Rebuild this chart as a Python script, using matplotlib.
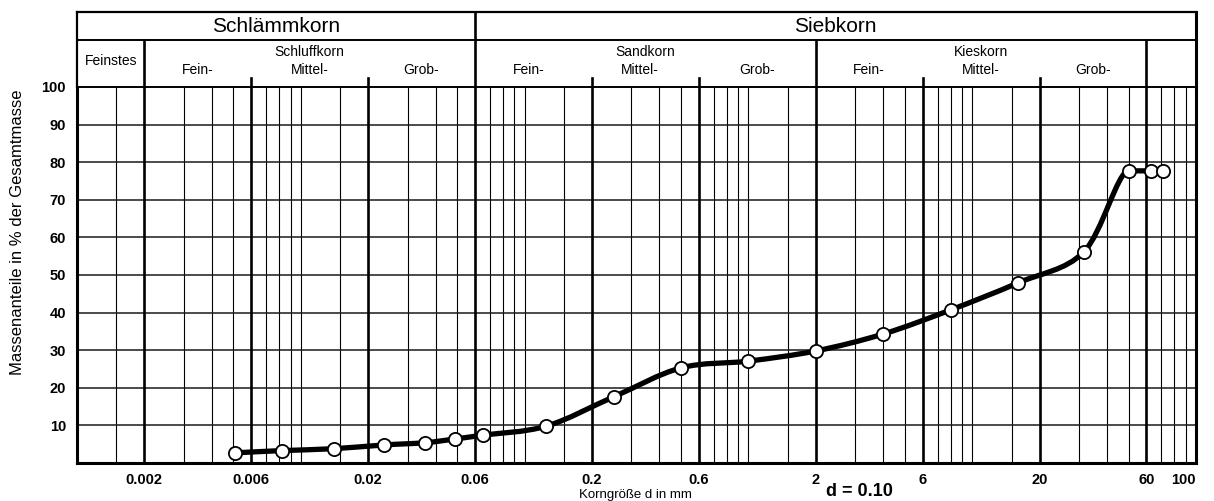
import numpy as np
import matplotlib
matplotlib.use("Agg")
import matplotlib.pyplot as plt
from matplotlib.path import Path
from matplotlib.patches import PathPatch

plt.rcParams['font.family'] = ['Liberation Sans', 'DejaVu Sans']

# grain size (mm) and passing (% of total mass)
d_mm = [0.0051, 0.0082, 0.014, 0.0235, 0.036, 0.049, 0.065, 0.125, 0.25, 0.5,
        1.0, 2.0, 4.0, 8.0, 16.0, 31.5, 50.0, 63.0, 71.0]
passing = [2.7, 3.3, 3.8, 4.8, 5.4, 6.4, 7.4, 9.8, 17.6, 25.3,
           27.1, 29.8, 34.3, 40.7, 47.9, 56.1, 77.7, 77.7, 77.7]

x_ticks = [0.002, 0.006, 0.02, 0.06, 0.2, 0.6, 2, 6, 20, 60, 100]
x_labels = ["0.002", "0.006", "0.02", "0.06", "0.2", "0.6", "2", "6", "20", "60", "100"]
y_ticks = [10, 20, 30, 40, 50, 60, 70, 80, 90, 100]

grid_steps = [1, 1.5, 2, 3, 4, 5, 6, 7, 8, 9]
decades = [0.001, 0.01, 0.1, 1, 10]
bounds = [0.002, 0.006, 0.02, 0.06, 0.2, 0.6, 2, 6, 20, 60]

top_groups = [("Schlämmkorn", 0.001, 0.06), ("Siebkorn", 0.06, 100)]
mid_groups = [("Schluffkorn", 0.002, 0.06), ("Sandkorn", 0.06, 2), ("Kieskorn", 2, 60)]
sub_names = ["Fein-", "Mittel-", "Grob-"]

W, H = 1214, 501
fig = plt.figure(figsize=(W / 100, H / 100), dpi=100)
ax = fig.add_axes([77 / W, 38 / H, 1119 / W, 376 / H])
ax.set_xscale('log')
ax.set_xlim(0.001, 100)
ax.set_ylim(0, 100)
trans = ax.get_xaxis_transform()

# vertical grid
for dec in decades:
    for s in grid_steps:
        v = dec * s
        if v <= 0.0011 or v >= 99:
            continue
        if any(np.isclose(v, b) for b in bounds):
            if np.isclose(v, 0.06):
                top = 1.2
            elif any(np.isclose(v, b) for b in [0.002, 2, 60]):
                top = 1.125
            else:
                top = 1.024
            ax.plot([v, v], [0, top], color='black', lw=1.9, transform=trans,
                    clip_on=False, zorder=2)
        else:
            ax.axvline(v, color='black', lw=0.8, zorder=1)

for yv in y_ticks[:-1]:
    ax.axhline(yv, color='#1a1a1a', lw=1.1, zorder=1)

for side in ['left', 'bottom', 'right']:
    ax.spines[side].set_linewidth(2.2)
ax.spines['top'].set_linewidth(1.4)

# header frame
ax.plot([0.001, 0.001], [1, 1.2], color='black', lw=1.6, transform=trans, clip_on=False)
ax.plot([100, 100], [1, 1.2], color='black', lw=2.2, transform=trans, clip_on=False)
ax.plot([0.001, 100], [1.2, 1.2], color='black', lw=1.6, transform=trans, clip_on=False)
ax.plot([0.001, 100], [1.125, 1.125], color='black', lw=1.4, transform=trans, clip_on=False)

for name, a, b in top_groups:
    ax.text(np.sqrt(a * b), 1.162, name, transform=trans, ha='center', va='center',
            fontsize=15)
ax.text(np.sqrt(0.001 * 0.002), 1.068, "Feinstes", transform=trans, ha='center',
        va='center', fontsize=10)
for name, a, b in mid_groups:
    ax.text(np.sqrt(a * b), 1.093, name, transform=trans, ha='center', va='center',
            fontsize=10)
    edges = [a, a * 3, a * 10, b]
    for k, sub in enumerate(sub_names):
        ax.text(np.sqrt(edges[k] * edges[k + 1]), 1.046, sub, transform=trans,
                ha='center', va='center', fontsize=10)

# smooth grading curve through the measured points (flat tangent at plateaus)
pts = np.column_stack([np.log10(d_mm), passing])
n = len(pts)
tang = np.zeros_like(pts)
for i in range(n):
    prev = pts[max(i - 1, 0)]
    nxt = pts[min(i + 1, n - 1)]
    tang[i] = (nxt - prev) / 2
    if 0 < i < n - 1:
        dy0 = pts[i, 1] - pts[i - 1, 1]
        dy1 = pts[i + 1, 1] - pts[i, 1]
        if abs(dy0) < 0.5 or abs(dy1) < 0.5:
            tang[i, 1] = 0
verts = [pts[0]]
codes = [Path.MOVETO]
for i in range(n - 1):
    verts += [pts[i] + tang[i] / 3, pts[i + 1] - tang[i + 1] / 3, pts[i + 1]]
    codes += [Path.CURVE4] * 3
verts = np.array(verts)
verts[:, 0] = 10 ** verts[:, 0]
ax.add_patch(PathPatch(Path(verts, codes), fill=False, lw=3.8, edgecolor='black',
                       capstyle='round', joinstyle='round', zorder=4))
ax.plot(d_mm, passing, 'o', ms=9.5, mfc='white', mec='black', mew=1.3, zorder=5)

ax.set_xticks(x_ticks)
ax.set_xticklabels(x_labels)
ax.xaxis.set_minor_locator(plt.NullLocator())
ax.set_yticks(y_ticks)
ax.tick_params(axis='both', length=0, labelsize=10.5)
ax.tick_params(axis='x', pad=7)
ax.tick_params(axis='y', pad=8)
for lbl in ax.get_xticklabels() + ax.get_yticklabels():
    lbl.set_fontweight('bold')
ax.get_xticklabels()[-1].set_horizontalalignment('right')

fig.text(18 / W, 1 - 232 / H, "Massenanteile in % der Gesamtmasse", rotation=90,
         ha='center', va='center', fontsize=12)
fig.text(635 / W, 1 - 495 / H, "Korngröße d in mm", ha='center', va='center',
         fontsize=9.5)
fig.text(826 / W, 1 - 500 / H, "d = 0.10", ha='left', va='bottom', fontsize=13,
         fontweight='bold')

fig.savefig("out.png", dpi=100)
